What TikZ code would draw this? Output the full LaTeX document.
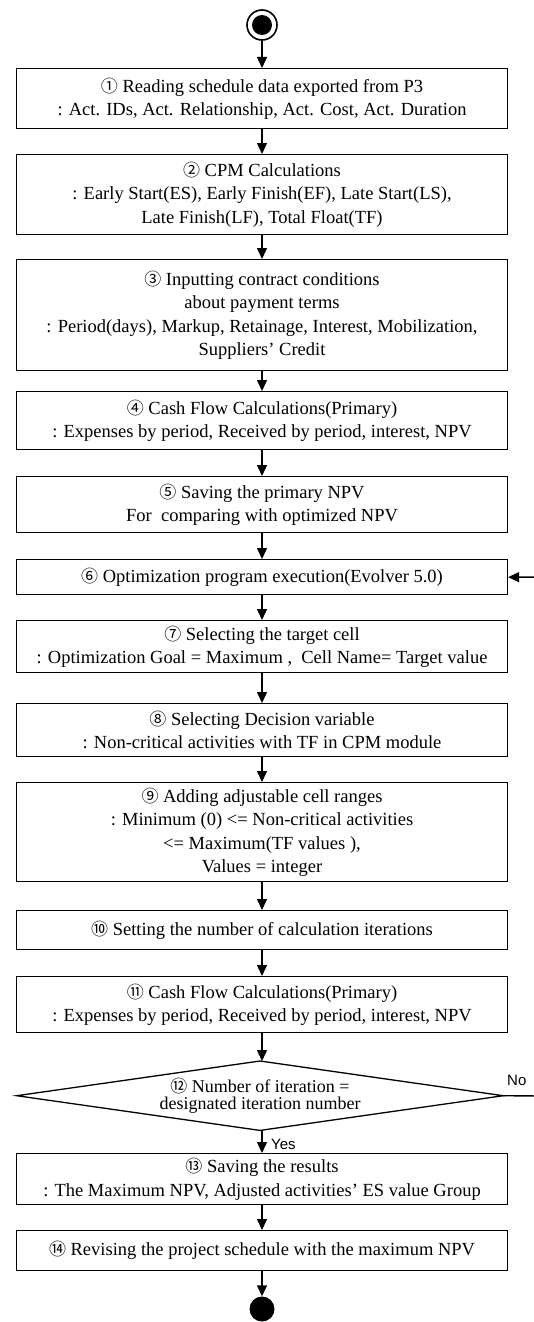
\documentclass[tikz,border=0pt]{standalone}
\usepackage{fontspec}
\setmainfont{Liberation Serif}
\newfontfamily\cnumfont{Noto Sans CJK SC}
\newfontfamily\labelfont{Liberation Sans}
\usetikzlibrary{arrows.meta}
\newcommand\cn[1]{{\cnumfont\fontsize{17}{17}\selectfont #1}}
\begin{document}
\begin{tikzpicture}[x=1pt,y=-1pt,
  box/.style={draw, line width=1.3pt, minimum width=491pt, inner sep=0pt, align=center,
    font=\fontsize{18.5}{23.5}\selectfont, anchor=north},
  arr/.style={-{Triangle[width=10pt,length=11pt]}, line width=1.4pt},
  lbl/.style={font=\labelfont\fontsize{15}{15}\selectfont, inner sep=0pt}]
\useasboundingbox (0,0) rectangle (534,1322);
\clip (0,0) rectangle (534,1322);

\node[circle, draw, line width=1.6pt, minimum size=30pt, inner sep=0pt] (start) at (262,25) {};
\node[circle, fill, minimum size=20pt, inner sep=0pt] (startin) at (262,25) {};

\node[box, minimum height=60pt] (b1) at (262,68)
  {\cn{①} Reading schedule data exported from P3\\: Act. IDs, Act. Relationship, Act. Cost, Act. Duration};
\node[box, minimum height=80pt] (b2) at (262,154)
  {\cn{②} CPM Calculations\\: Early Start(ES), Early Finish(EF), Late Start(LS),\\Late Finish(LF), Total Float(TF)};
\node[box, minimum height=111pt] (b3) at (262,259)
  {\cn{③} Inputting contract conditions\\about payment terms\\: Period(days), Markup, Retainage, Interest, Mobilization,\\Suppliers’ Credit};
\node[box, minimum height=58pt] (b4) at (262,391)
  {\cn{④} Cash Flow Calculations(Primary)\\: Expenses by period, Received by period, interest, NPV};
\node[box, minimum height=56pt] (b5) at (262,476)
  {\cn{⑤} Saving the primary NPV\\For\ \ comparing with optimized NPV};
\node[box, minimum height=35pt] (b6) at (262,559)
  {\cn{⑥} Optimization program execution(Evolver 5.0)};
\node[box, minimum height=52pt] (b7) at (262,620)
  {\cn{⑦} Selecting the target cell\\: Optimization Goal = Maximum ,\enspace Cell Name= Target value};
\node[box, minimum height=53pt] (b8) at (262,703)
  {\cn{⑧} Selecting Decision variable\\: Non-critical activities with TF in CPM module};
\node[box, minimum height=99pt] (b9) at (262,782)
  {\cn{⑨} Adding adjustable cell ranges\\: Minimum (0) <= Non-critical activities\\<= Maximum(TF values ),\\Values = integer};
\node[box, minimum height=39pt] (b10) at (262,910)
  {\cn{⑩} Setting the number of calculation iterations};
\node[box, minimum height=56pt] (b11) at (262,976)
  {\cn{⑪} Cash Flow Calculations(Primary)\\: Expenses by period, Received by period, interest, NPV};
\node[minimum width=486pt, minimum height=69pt, inner sep=0pt, align=center,
  font=\fontsize{18}{17}\selectfont, anchor=north] (d12) at (260,1061)
  {\cn{⑫} Number of iteration =\\designated iteration number};
\draw[line width=1.3pt] (d12.north) -- (d12.east) -- (d12.south) -- (d12.west) -- cycle;
\node[box, minimum height=51pt] (b13) at (262,1153)
  {\cn{⑬} Saving the results\\: The Maximum NPV, Adjusted activities’ ES value Group};
\node[box, minimum height=40pt] (b14) at (262,1230)
  {\cn{⑭} Revising the project schedule with the maximum NPV};
\node[circle, fill, minimum size=25pt, inner sep=0pt] (end) at (262,1309) {};

\draw[arr] (start) -- (b1);
\draw[arr] (b1) -- (b2);
\draw[arr] (b2) -- (b3);
\draw[arr] (b3) -- (b4);
\draw[arr] (b4) -- (b5);
\draw[arr] (b5) -- (b6);
\draw[arr] (b6) -- (b7);
\draw[arr] (b7) -- (b8);
\draw[arr] (b8) -- (b9);
\draw[arr] (b9) -- (b10);
\draw[arr] (b10) -- (b11);
\draw[arr] (b11.south) -- (b11.south |- d12.north);
\draw[arr] (b13.north |- d12.south) -- (b13.north);
\draw[arr] (b13) -- (b14);
\draw[arr] (b14) -- (end);

\coordinate (loop) at (541,1096);
\draw[arr] (d12.east) -- (loop) |- (b6.east);
\node[lbl, anchor=west] (no) at (507,1080) {No};
\node[lbl, anchor=west] (yes) at (271,1144) {Yes};
\end{tikzpicture}
\end{document}
